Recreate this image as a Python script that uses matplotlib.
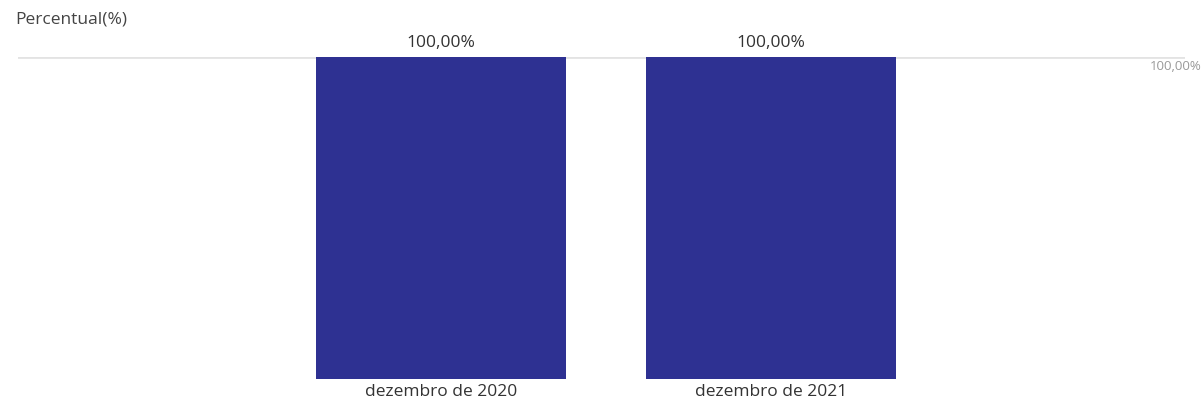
import matplotlib.pyplot as plt

categories = ["dezembro de 2020", "dezembro de 2021"]
values = [100.0, 100.0]
value_labels = ["100,00%", "100,00%"]

plt.rcParams["font.family"] = ["Open Sans", "DejaVu Sans"]

W, H = 1204, 406
fig = plt.figure(figsize=(W / 100, H / 100), dpi=100)
# axes spans pixel x 18..1185, y 58..380
ax = fig.add_axes([18 / W, (H - 380) / H, (1185 - 18) / W, (380 - 58) / H])

x = list(range(len(categories)))
ax.bar(x, values, width=250 / 330, color="#2E3192", zorder=2)
ax.set_xlim(-(441 - 18) / 330, 1 + (1185 - 771) / 330)
ax.set_ylim(0, 100)

ax.axhline(100, color="#E3E3E3", lw=2, zorder=1)

for xi, v, lab in zip(x, values, value_labels):
    ax.annotate(lab, (xi, v), xytext=(0, 11), textcoords="offset points",
                ha="center", va="center", fontsize=12.5, color="#333333")

for s in ax.spines.values():
    s.set_visible(False)
ax.set_yticks([])
ax.set_xticks(x)
ax.set_xticklabels(categories, fontsize=12.5, color="#333333")
ax.tick_params(axis="x", length=0, pad=3)

fig.text(15 / W, 1 - 20 / H, "Percentual(%)", ha="left", va="center",
         fontsize=12.5, color="#444444")
fig.text(1202 / W, 1 - 66 / H, "100,00%", ha="right", va="center",
         fontsize=9.5, color="#999999")

fig.savefig("out.png", dpi=100)
